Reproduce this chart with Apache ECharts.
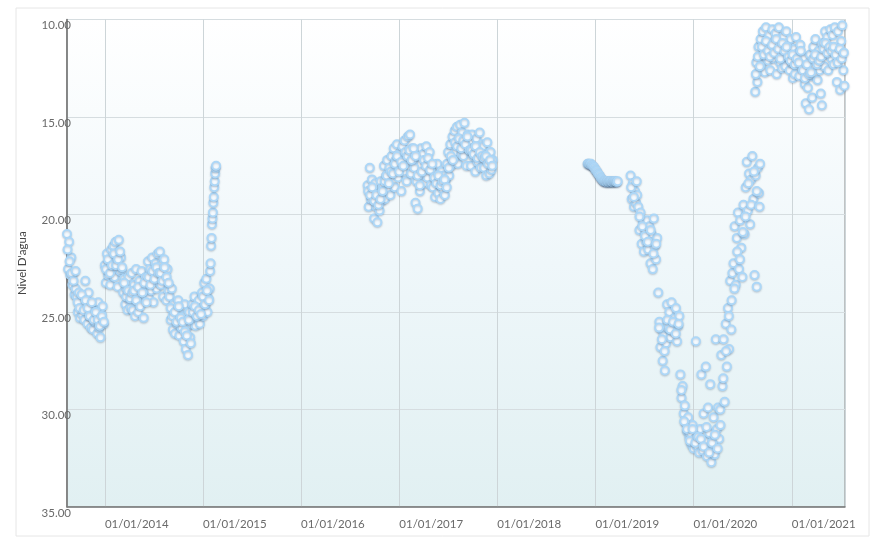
<!DOCTYPE html>
<html>
<head>
<meta charset="utf-8">
<script src="https://cdn.jsdelivr.net/npm/echarts@6/dist/echarts.min.js"></script>
<style>html,body{margin:0;padding:0;background:#fff}#c{width:876px;height:540px}</style>
</head>
<body>
<div id="c"></div>
<script>
// ---- data (readings spread evenly over each period) ----
const period1 = ['2013-08-13', '2015-01-26'];
const values1 = [
  21.0, 22.8, 21.4, 23.1, 22.2, 23.6, 23.0, 24.1, 23.8,
  24.2, 25.0, 24.0, 25.3, 24.6, 25.1, 24.3, 25.4, 23.4,
  24.3, 25.6, 24.0, 25.2, 25.8, 24.6, 25.9, 24.9, 25.5,
  25.0, 26.1, 24.5, 25.8, 26.3, 25.1, 24.7, 25.6,
  22.6, 23.5, 22.0, 23.1, 22.4, 23.6, 21.8,
  22.8, 21.6, 23.2, 21.4, 22.5, 23.7, 21.3, 22.9, 22.2,
  22.8, 24.0, 23.3, 24.6, 23.8, 24.9, 23.2, 24.4, 24.8,
  23.0, 24.9, 23.6, 25.2, 22.8, 24.2, 25.0, 23.4, 24.6, 22.9, 23.8, 25.3, 24.1, 23.2,
  23.6, 22.4, 24.3, 22.8, 23.9, 22.2, 24.5, 23.1, 22.5, 23.8, 22.0, 23.5,
  21.9, 23.6, 22.5, 24.2, 22.3, 23.0, 24.4, 22.8, 23.9,
  24.2, 25.4, 23.8, 25.9, 24.6, 26.1, 24.9, 25.6, 24.4, 26.2, 25.1, 25.8,
  25.2, 26.5, 24.6, 26.9, 25.8, 27.2, 25.0, 26.3, 25.6,
  24.6, 25.5, 24.2, 25.7, 24.9, 25.3, 24.4, 25.6, 24.8,
  24.0, 25.2, 23.5, 24.7, 23.3, 25.0, 24.3, 23.8
];
const period1Mid = ['2013-08-15', '2015-01-24'];
const values1Mid = [
  21.8, 22.4, 23.0, 23.4, 22.9,
  24.5, 24.8, 24.1, 24.9, 24.4,
  24.8, 25.2, 24.5, 25.4, 25.0,
  25.4, 25.7, 25.2, 25.5,
  22.8, 22.3, 23.0, 22.6,
  22.0, 22.6, 22.3, 21.9, 22.7,
  23.5, 24.2, 23.9, 24.3, 24.0,
  23.9, 24.4, 23.7, 24.7, 24.0, 23.5, 24.5,
  23.2, 23.6, 22.9, 23.3, 22.7, 23.0,
  23.0, 23.4, 22.7, 23.2, 23.5,
  24.8, 25.2, 25.0, 25.5, 24.7, 25.3,
  25.5, 26.0, 26.2, 25.4, 26.6,
  25.0, 24.7, 25.2, 24.9, 25.1,
  24.2, 24.6, 23.9, 24.4
];
const period1b = ['2015-01-28', '2015-02-19'];
const values1b = [22.9, 22.5, 21.6, 21.2, 20.5, 20.2, 19.9, 19.4, 19.1, 18.6, 18.3, 17.9, 17.6, 17.5];

const period2 = ['2016-09-05', '2017-12-15'];
const values2 = [
  18.5, 19.6, 17.6, 19.2, 18.2,
  19.0, 20.2, 18.4, 19.6, 20.4, 18.9, 19.8, 18.3, 19.3,
  18.6, 17.5, 19.2, 18.0, 17.2, 18.8, 17.6, 19.0, 17.0,
  17.9, 16.6, 18.6, 17.2, 16.4, 18.1, 16.9, 17.6, 18.8,
  16.5, 17.8, 16.2, 17.4, 18.3, 16.0, 17.1, 15.9, 17.9, 16.6, 17.3,
  17.6, 19.4, 18.3, 19.7, 17.0, 18.8,
  16.6, 17.9, 16.9, 18.4, 17.3, 16.5, 18.1, 17.6, 16.8, 18.5,
  17.5, 18.6, 17.9, 19.1, 18.2, 17.4, 18.9, 18.4, 19.2, 17.8, 18.7, 18.0, 19.0,
  18.2, 17.4, 16.8, 18.0, 16.4, 17.5,
  16.0, 17.2, 15.7, 16.8, 15.5, 17.4, 16.2, 15.4, 16.9, 15.8, 17.0, 15.3, 16.5, 17.5, 15.9, 16.6,
  16.2, 17.5, 15.9, 17.0, 16.6, 17.8, 16.1, 17.3, 16.8, 15.8, 17.6, 16.4,
  16.5, 17.6, 16.9, 18.0, 16.3, 17.3, 17.9, 16.8, 17.7, 17.2
];
const period2Mid = ['2016-09-07', '2017-12-13'];
const values2Mid = [
  18.8, 19.0, 18.6,
  19.3, 19.0, 19.5, 19.2, 18.8,
  18.3, 18.0, 18.4, 17.8, 17.9,
  17.4, 17.0, 17.8, 17.3, 17.5,
  16.8, 17.0, 16.7, 17.2, 16.6, 17.0,
  18.0, 18.5, 17.8,
  17.2, 17.5, 17.1, 17.7, 17.4,
  18.1, 18.4, 18.0, 18.5, 18.3, 18.2, 18.6,
  17.6, 17.0, 17.2,
  16.3, 16.5, 16.1, 16.6, 16.2, 16.4, 16.0, 16.7,
  16.7, 16.9, 16.5, 17.1, 16.8, 17.0,
  17.1, 17.0, 17.4, 17.2, 17.5
];

const period3 = ['2018-12-03', '2019-03-25'];
const values3 = [
  17.4, 17.4, 17.4, 17.45, 17.4, 17.5, 17.5, 17.55, 17.6, 17.7, 17.75, 17.8,
  17.9, 17.95, 18.0, 18.1, 18.15, 18.2, 18.25, 18.3, 18.3, 18.3, 18.35, 18.3,
  18.3, 18.35, 18.3, 18.3, 18.3, 18.35, 18.3, 18.3, 18.3, 18.3, 18.35, 18.3
];

const period4 = ['2019-05-12', '2020-09-05'];
const values4 = [
  18.0, 19.2, 18.4, 19.6, 18.8, 19.4, 19.0,
  19.6, 20.8, 19.9, 21.5, 20.4, 21.9, 20.9, 21.4,
  20.3, 21.8, 20.6, 22.5, 21.0, 22.8, 20.2, 21.6, 22.3, 21.2,
  24.0, 25.5, 26.8, 25.9, 27.5, 26.2, 28.0, 26.6,
  24.6, 25.8, 25.0, 26.3, 24.5, 25.6, 26.0, 25.3, 24.8, 26.5, 25.7, 25.2,
  28.2, 29.4, 28.8, 30.2, 29.8, 30.7, 31.1, 30.4, 31.4,
  31.2, 31.8, 30.8, 32.0, 31.5, 26.5, 31.9, 31.3, 32.2,
  31.0, 28.2, 32.1, 30.2, 31.6, 27.8, 32.4, 29.9, 31.2, 28.7, 32.7,
  31.8, 30.4, 32.3, 26.4, 31.0, 29.9, 31.5,
  30.0, 27.2, 28.8, 26.4, 29.6, 25.6, 27.8, 24.8, 26.9, 23.4, 25.9, 23.0,
  22.5, 20.6, 23.6, 21.2, 19.9, 22.8, 20.3, 21.7, 23.2, 19.5, 21.0,
  18.6, 17.3, 19.8, 17.9, 20.5, 18.2, 17.0, 19.2, 23.1, 18.0, 23.7, 17.6, 18.9, 17.4
];
const period4Mid = ['2019-05-14', '2020-09-03'];
const values4Mid = [
  18.6, 19.1, 18.3,
  20.1, 20.6, 21.1,
  21.4, 20.8, 22.0, 21.5,
  25.8, 26.4, 27.0,
  25.4, 25.9, 25.5, 26.1, 25.6,
  29.0, 30.6, 31.0,
  31.6, 31.0, 31.7, 31.4,
  31.5, 31.9, 30.9, 32.2, 31.7,
  31.3, 32.0, 30.8,
  28.4, 27.0, 25.2, 24.4, 23.8,
  21.9, 22.3, 20.9, 20.1,
  18.4, 19.5, 17.8, 18.8, 19.6
];

const period5 = ['2020-08-18', '2021-07-16'];
const values5 = [
  13.7, 12.2, 13.2, 11.4, 12.6,
  11.0, 12.3, 10.6, 11.8, 12.7, 10.4, 11.5, 12.1, 10.8, 12.6, 11.2, 10.5, 12.0,
  11.6, 10.7, 12.8, 11.3, 10.4, 12.2, 11.0, 12.5, 10.9, 11.7, 12.4, 10.6, 11.9,
  11.2, 12.6, 11.0, 12.2, 13.0, 11.5, 12.8, 10.9, 12.0, 11.7, 12.9, 11.3, 12.4, 11.9,
  12.0, 13.3, 14.3, 12.5, 13.5, 14.6, 11.8, 12.9, 14.0,
  11.4, 12.8, 11.0, 12.2, 13.1, 11.6, 12.6, 13.8, 14.4,
  11.2, 12.4, 10.6, 11.8, 10.9, 12.6, 11.4, 10.5, 12.0,
  10.8, 12.3, 10.4, 11.6, 13.2, 10.6, 12.0, 13.6, 11.1, 10.3, 12.6, 13.4
];
const period5Mid = ['2020-08-20', '2021-07-14'];
const values5Mid = [
  12.8, 11.9, 12.4,
  11.4, 11.8, 11.1, 11.6, 11.9, 11.3, 11.7, 11.0, 11.5, 12.0, 11.2, 11.6, 11.4,
  11.9, 12.1, 11.8, 12.3, 12.0, 12.2, 11.6,
  12.6, 13.0, 12.3, 12.8, 12.7,
  12.0, 11.8, 12.3, 12.1, 11.9,
  11.5, 11.2, 11.7, 11.4, 11.6,
  11.4, 11.8, 12.2, 11.5, 12.0, 11.7
];

const xRange = ['2013-08-13', '2021-07-18'];
const yTicks = [10, 15, 20, 25, 30, 35];

// ---- helpers ----
function toTime(s) { const p = s.split('-').map(Number); return new Date(p[0], p[1] - 1, p[2]).getTime(); }
function spread(period, vals) {
  const a = toTime(period[0]), b = toTime(period[1]);
  const step = vals.length > 1 ? (b - a) / (vals.length - 1) : 0;
  return vals.map((v, i) => [a + i * step, v]);
}
const pts = [].concat(
  spread(period1, values1), spread(period1Mid, values1Mid), spread(period1b, values1b),
  spread(period2, values2), spread(period2Mid, values2Mid),
  spread(period3, values3),
  spread(period4, values4), spread(period4Mid, values4Mid),
  spread(period5, values5), spread(period5Mid, values5Mid)
);
function pad(n) { return (n < 10 ? '0' : '') + n; }

const chart = echarts.init(document.getElementById('c'), null, { renderer: 'canvas' });
const YEAR = 365 * 86400000;
chart.setOption({
  animation: false,
  backgroundColor: '#ffffff',
  graphic: [{
    type: 'rect', left: 15.5, top: 7.5, z: -10,
    shape: { width: 853, height: 528 },
    style: { fill: '#ffffff', stroke: '#e6e6e6', lineWidth: 1 }
  }],
  grid: {
    left: 67, right: 31, top: 19.5, bottom: 33, show: true,
    borderColor: '#8c8c8c', borderWidth: 1,
    backgroundColor: new echarts.graphic.LinearGradient(0, 0, 0, 1, [
      { offset: 0, color: '#ffffff' },
      { offset: 0.5, color: '#eff7fa' },
      { offset: 1, color: '#e1f0f2' }
    ])
  },
  xAxis: {
    type: 'time',
    min: toTime(xRange[0]), max: toTime(xRange[1]),
    minInterval: YEAR, maxInterval: YEAR + 86400000,
    splitNumber: 8,
    axisLine: { show: true, lineStyle: { color: '#7a7a7a', width: 1.5 } },
    axisTick: { show: false },
    splitLine: { show: true, lineStyle: { color: '#cdd5d8', width: 1 } },
    axisLabel: {
      showMinLabel: false, showMaxLabel: false,
      align: 'left', margin: 11, color: '#6a6a6a', fontFamily: 'Lato', fontSize: 11.5,
      formatter: function (v) { const d = new Date(v); return pad(d.getDate()) + '/' + pad(d.getMonth() + 1) + '/' + d.getFullYear(); }
    }
  },
  yAxis: {
    type: 'value', inverse: true, min: yTicks[0], max: yTicks[yTicks.length - 1], interval: 5,
    name: "Nivel D'agua", nameLocation: 'middle', nameGap: 39, nameRotate: 90,
    nameTextStyle: { color: '#444', fontFamily: 'Lato', fontSize: 11.5 },
    axisLine: { show: true, lineStyle: { color: '#6f6f6f', width: 1.5 } },
    axisTick: { show: false },
    splitLine: { show: true, lineStyle: { color: '#d6dde0', width: 1 } },
    axisLabel: {
      margin: -4, verticalAlign: 'top', color: '#6a6a6a', fontFamily: 'Lato', fontSize: 11.5,
      formatter: function (v) { return v.toFixed(2); }
    }
  },
  series: [{
    type: 'scatter',
    data: pts,
    symbol: 'circle',
    symbolSize: 8,
    itemStyle: {
      color: '#f4faff', borderColor: '#add7f7', borderWidth: 2, opacity: 1,
      shadowColor: 'rgba(40,70,100,0.22)', shadowBlur: 2, shadowOffsetY: 1
    }
  }]
});
</script>
</body>
</html>
